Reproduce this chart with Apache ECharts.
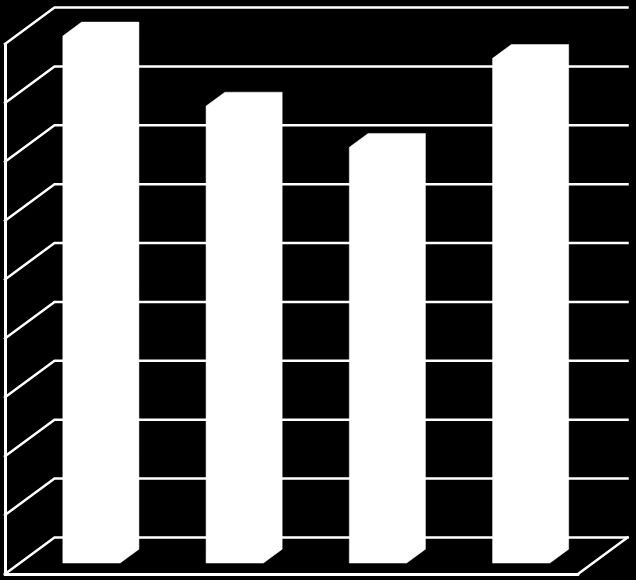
<!DOCTYPE html>
<html><head><meta charset="utf-8">
<style>html,body{margin:0;padding:0;background:#000}#c{width:636px;height:580px}</style>
<script src="https://cdn.jsdelivr.net/npm/echarts@6/dist/echarts.min.js"></script>
</head><body><div id="c"></div>
<script>
const categories = ['1', '2', '3', '4'];
const values = [8.95, 7.76, 7.06, 8.57];
const gridTicks = [0, 1, 2, 3, 4, 5, 6, 7, 8, 9];

const WALL_DX = 49.5, WALL_DY = -36.5;    // oblique depth of the plot box
const BAR_FRONT = 0.3, BAR_BACK = 0.68;   // bar's position along the depth
const LINE = { stroke: '#fff', lineWidth: 2.5, fill: 'none', lineCap: 'square', lineJoin: 'miter' };

const chart = echarts.init(document.getElementById('c'), null, { renderer: 'canvas' });
chart.setOption({
  backgroundColor: '#000',
  animation: false,
  grid: { left: 5, right: 58, top: 44, bottom: 6 },
  xAxis: {
    type: 'category', data: categories,
    axisLine: { show: true, lineStyle: { color: '#fff', width: 3 } },
    axisTick: { show: false }, axisLabel: { show: false }, splitLine: { show: false }
  },
  yAxis: {
    type: 'value', min: 0, max: 9, interval: 1,
    axisLine: { show: true, lineStyle: { color: '#fff', width: 3 } },
    axisTick: { show: false }, axisLabel: { show: false }, splitLine: { show: false }
  },
  series: [
    {
      type: 'custom', z: 1, silent: true, clip: false,
      encode: { y: 0 },
      data: gridTicks.map(v => [v]),
      renderItem(params, api) {
        const sys = params.coordSys;
        const y = api.coord([0, api.value(0)])[1];
        const children = [{
          type: 'polyline',
          shape: { points: [[sys.x, y], [sys.x + WALL_DX, y + WALL_DY], [sys.x + sys.width + WALL_DX, y + WALL_DY]] },
          style: LINE
        }];
        if (api.value(0) === 0) {
          children.push({
            type: 'line',
            shape: { x1: sys.x + sys.width, y1: y, x2: sys.x + sys.width + WALL_DX, y2: y + WALL_DY },
            style: LINE
          });
        }
        return { type: 'group', children };
      }
    },
    {
      type: 'custom', z: 2, silent: true, clip: false,
      encode: { x: 0, y: 1 },
      data: values.map((v, i) => [i, v]),
      renderItem(params, api) {
        const c = api.coord([api.value(0), api.value(1)]);
        const base = api.coord([api.value(0), 0]);
        const w = api.size([1, 0])[0] * 0.4;
        const fx = c[0] - w / 2 + WALL_DX * BAR_FRONT, fo = WALL_DY * BAR_FRONT;
        const dx = WALL_DX * (BAR_BACK - BAR_FRONT), dy = WALL_DY * (BAR_BACK - BAR_FRONT);
        const top = c[1] + fo, bot = base[1] + fo;
        return {
          type: 'polygon',
          shape: { points: [
            [fx, bot], [fx + w, bot], [fx + w + dx, bot + dy],
            [fx + w + dx, top + dy], [fx + dx, top + dy], [fx, top]
          ] },
          style: { fill: '#fff', stroke: '#fff', lineWidth: 0.5 }
        };
      }
    }
  ]
});
</script></body></html>
